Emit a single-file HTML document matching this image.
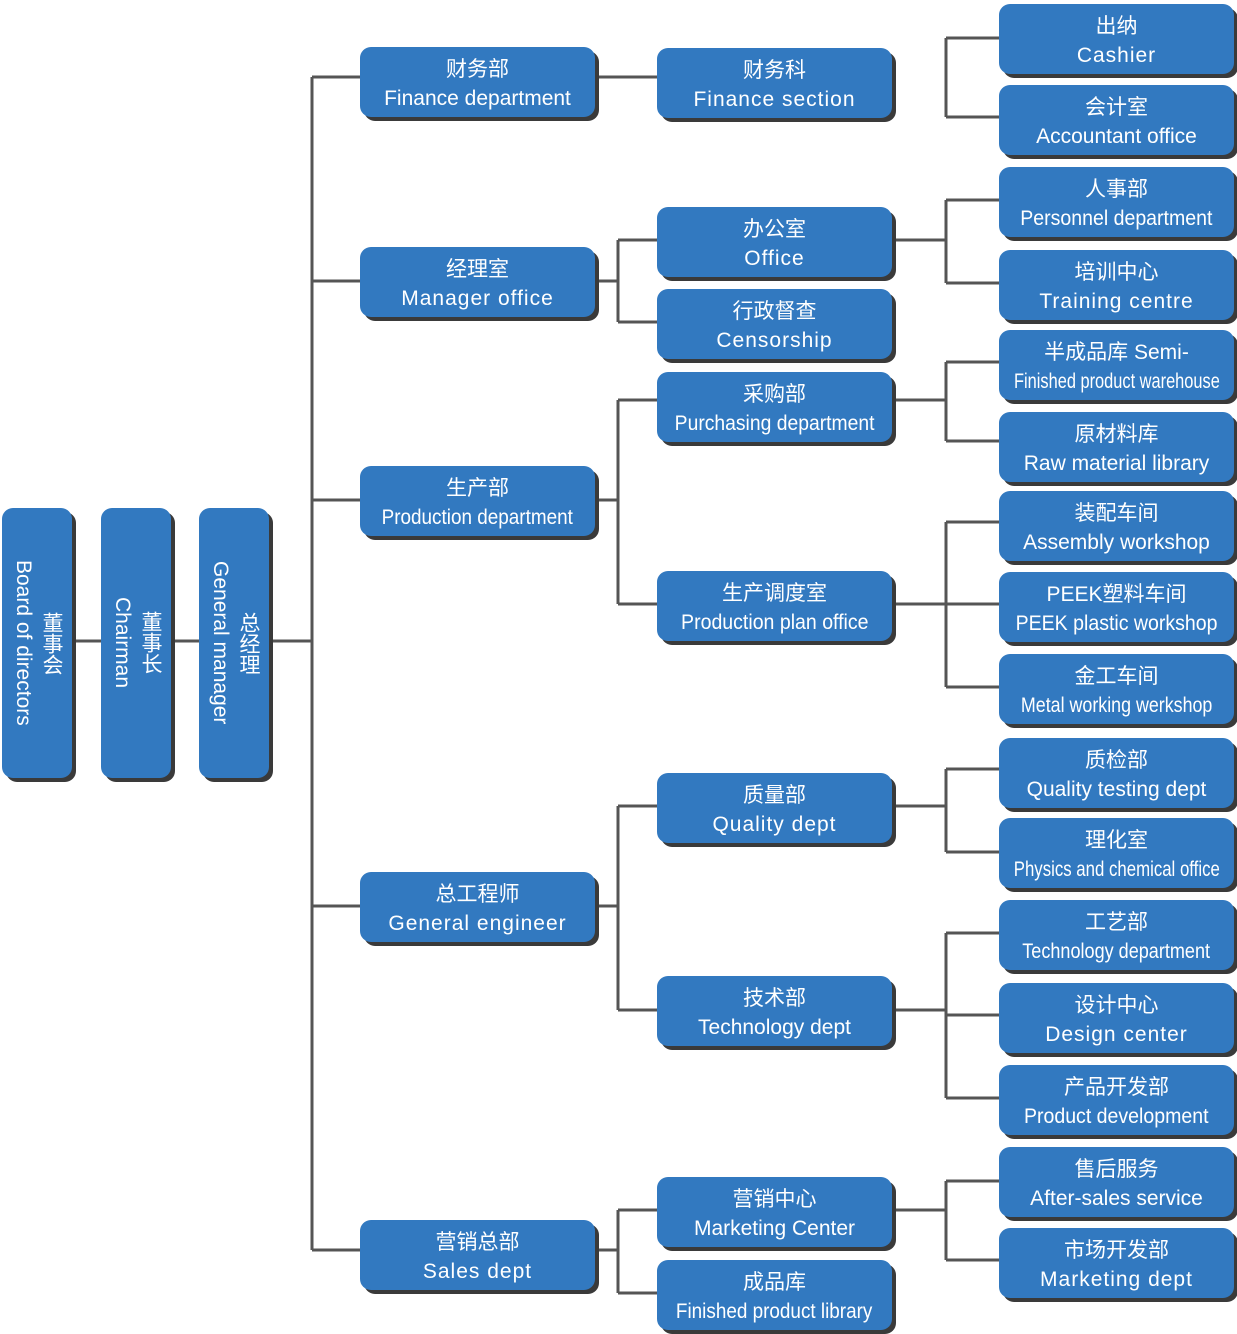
<!DOCTYPE html>
<html><head><meta charset="utf-8">
<style>
html,body{margin:0;padding:0;background:#fff;}
body{width:1237px;height:1334px;position:relative;overflow:hidden;font-family:"Liberation Sans","Noto Sans CJK SC",sans-serif;}
.b{position:absolute;background:#3279c0;border-radius:11px;box-shadow:4px 4px 0 #3a3a3a;color:#fff;text-align:center;display:flex;flex-direction:column;justify-content:center;align-items:center;font-size:21px;line-height:29px;white-space:nowrap;padding-top:3px;box-sizing:border-box;}
.c2{left:360px;width:235px;height:70px;}
.c3{left:657px;width:235px;height:70px;}
.c4{left:999px;width:235px;height:70px;}
.b span{display:inline-block;}
.v{position:absolute;top:508px;width:70px;height:270px;background:#3279c0;border-radius:11px;box-shadow:4px 4px 0 #3a3a3a;color:#fff;font-size:21px;display:flex;align-items:center;justify-content:center;}
.v .t{writing-mode:vertical-rl;white-space:nowrap;text-align:center;line-height:28px;}
svg{position:absolute;left:0;top:0;}
</style></head><body>
<svg width="1237" height="1334"><g stroke="#555" stroke-width="3" fill="none">
<path d="M72 641H101M171 641H199M269 641H312"/>
<path d="M312 77V1250M312 77H360M312 281H360M312 500H360M312 906H360M312 1250H360"/>
<path d="M595 77H657"/>
<path d="M595 281H618M618 240V322M618 240H657M618 322H657"/>
<path d="M595 500H618M618 400V604M618 400H657M618 604H657"/>
<path d="M595 906H618M618 806V1010M618 806H657M618 1010H657"/>
<path d="M595 1250H618M618 1210V1293M618 1210H657M618 1293H657"/>
<path d="M946 38V117M946 38H999M946 117H999"/>
<path d="M892 240H946M946 200V283M946 200H999M946 283H999"/>
<path d="M892 400H946M946 362V441M946 362H999M946 441H999"/>
<path d="M892 604H999M946 522V687M946 522H999M946 687H999"/>
<path d="M892 806H946M946 769V852M946 769H999M946 852H999"/>
<path d="M892 1010H946M946 933V1098M946 933H999M946 1015H999M946 1098H999"/>
<path d="M892 1210H946M946 1181V1260M946 1181H999M946 1260H999"/>
</g></svg>

<div class="v" style="left:2px"><div class="t">董事会<br>Board of directors</div></div>
<div class="v" style="left:101px"><div class="t">董事长<br>Chairman</div></div>
<div class="v" style="left:199px"><div class="t">总经理<br>General manager</div></div>

<div class="b c2" style="top:47px"><span>财务部</span><span>Finance department</span></div>
<div class="b c2" style="top:247px"><span>经理室</span><span style="letter-spacing:1px">Manager office</span></div>
<div class="b c2" style="top:466px"><span>生产部</span><span style="transform:scaleX(.9)">Production department</span></div>
<div class="b c2" style="top:872px"><span>总工程师</span><span style="letter-spacing:1px">General engineer</span></div>
<div class="b c2" style="top:1220px"><span>营销总部</span><span style="letter-spacing:1px">Sales dept</span></div>

<div class="b c3" style="top:48px"><span>财务科</span><span style="letter-spacing:1px">Finance section</span></div>
<div class="b c3" style="top:207px"><span>办公室</span><span style="letter-spacing:1px">Office</span></div>
<div class="b c3" style="top:289px"><span>行政督查</span><span style="letter-spacing:1px">Censorship</span></div>
<div class="b c3" style="top:372px"><span>采购部</span><span style="transform:scaleX(.92)">Purchasing department</span></div>
<div class="b c3" style="top:571px"><span>生产调度室</span><span style="transform:scaleX(.93)">Production plan office</span></div>
<div class="b c3" style="top:773px"><span>质量部</span><span style="letter-spacing:1px">Quality dept</span></div>
<div class="b c3" style="top:976px"><span>技术部</span><span>Technology dept</span></div>
<div class="b c3" style="top:1177px"><span>营销中心</span><span>Marketing Center</span></div>
<div class="b c3" style="top:1260px"><span>成品库</span><span style="transform:scaleX(.9)">Finished product library</span></div>

<div class="b c4" style="top:4px"><span>出纳</span><span style="letter-spacing:1px">Cashier</span></div>
<div class="b c4" style="top:85px"><span>会计室</span><span>Accountant office</span></div>
<div class="b c4" style="top:167px"><span>人事部</span><span style="transform:scaleX(.93)">Personnel department</span></div>
<div class="b c4" style="top:250px"><span>培训中心</span><span style="letter-spacing:1px">Training centre</span></div>
<div class="b c4" style="top:330px"><span>半成品库 Semi-</span><span style="transform:scaleX(.78)">Finished product warehouse</span></div>
<div class="b c4" style="top:412px"><span>原材料库</span><span>Raw material library</span></div>
<div class="b c4" style="top:491px"><span>装配车间</span><span>Assembly workshop</span></div>
<div class="b c4" style="top:572px"><span>PEEK塑料车间</span><span style="transform:scaleX(.93)">PEEK plastic workshop</span></div>
<div class="b c4" style="top:654px"><span>金工车间</span><span style="transform:scaleX(.85)">Metal working werkshop</span></div>
<div class="b c4" style="top:738px"><span>质检部</span><span>Quality testing dept</span></div>
<div class="b c4" style="top:818px"><span>理化室</span><span style="transform:scaleX(.8)">Physics and chemical office</span></div>
<div class="b c4" style="top:900px"><span>工艺部</span><span style="transform:scaleX(.86)">Technology department</span></div>
<div class="b c4" style="top:983px"><span>设计中心</span><span style="letter-spacing:1px">Design center</span></div>
<div class="b c4" style="top:1065px"><span>产品开发部</span><span style="transform:scaleX(.93)">Product development</span></div>
<div class="b c4" style="top:1147px"><span>售后服务</span><span>After-sales service</span></div>
<div class="b c4" style="top:1228px"><span>市场开发部</span><span style="letter-spacing:1px">Marketing dept</span></div>
</body></html>
